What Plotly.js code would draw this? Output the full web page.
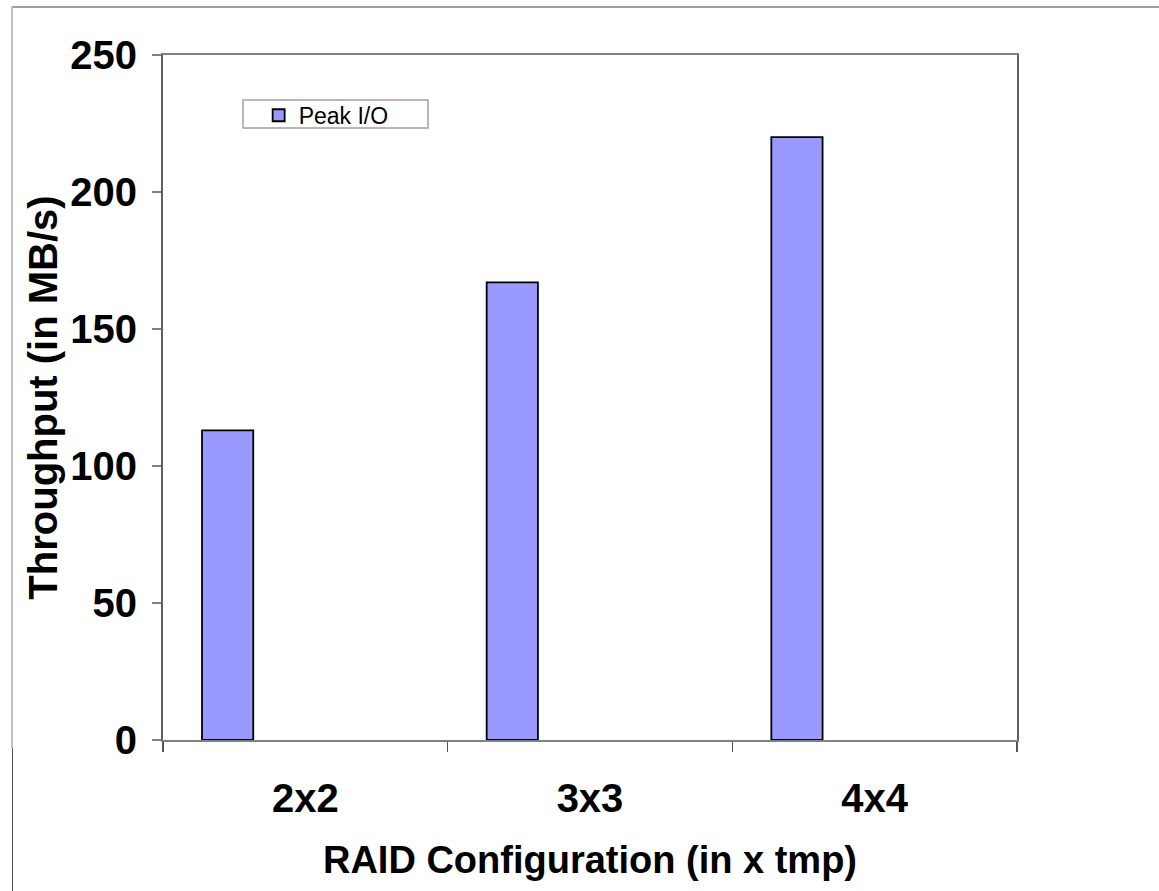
<!DOCTYPE html>
<html>
<head>
<meta charset="utf-8">
<script src="https://cdn.plot.ly/plotly-3.0.1.min.js"></script>
<style>
  html, body { margin: 0; padding: 0; background: #fff; }
  #wrap { position: relative; width: 1159px; height: 891px; overflow: hidden; }
  #chart { position: absolute; left: 0; top: 0; width: 1159px; height: 891px; }
  .frame-top { position: absolute; left: 12px; top: 6px; width: 1147px; height: 0; border-top: 2px solid #a0a0a0; }
  .frame-left { position: absolute; left: 11px; top: 6px; width: 0; height: 742px; border-left: 2px solid #c0c0c0; }
  .frame-left-low { position: absolute; left: 12px; top: 748px; width: 0; height: 143px; border-left: 1px solid #555; }
</style>
</head>
<body>
<div id="wrap">
  <div class="frame-top"></div>
  <div class="frame-left"></div>
  <div class="frame-left-low"></div>
  <div id="chart"></div>
</div>
<script>
// RAID configurations and measured peak throughput (MB/s)
const configs = ["2x2", "3x3", "4x4"];
const peakIO = [113, 167, 220];
const seriesName = "Peak I/O";
const yTicks = [0, 50, 100, 150, 200, 250];

const font = "Liberation Sans, Arial, sans-serif";

const trace = {
  type: "bar",
  name: seriesName,
  x: configs,
  y: peakIO,
  width: 0.18,
  offset: -0.363,
  marker: { color: "#9999ff", line: { color: "#000000", width: 1.8 } },
  showlegend: true,
  hoverinfo: "x+y"
};

const layout = {
  width: 1159,
  height: 891,
  margin: { l: 163, r: 142, t: 55, b: 151 },
  paper_bgcolor: "rgba(0,0,0,0)",
  plot_bgcolor: "#ffffff",
  font: { family: font, color: "#000" },
  showlegend: true,
  legend: {
    x: 0.112, y: 0.912, xanchor: "left", yanchor: "middle",
    bgcolor: "rgba(0,0,0,0)",
    borderwidth: 0,
    font: { family: font, size: 23, color: "#000" }
  },
  // legend frame box
  shapes: [{
    type: "rect", xref: "paper", yref: "paper", layer: "above",
    x0: 0.0937, x1: 0.3103, y0: 0.8934, y1: 0.9343,
    line: { color: "#a0a0a0", width: 1.5 },
    fillcolor: "#ffffff"
  }],
  xaxis: {
    type: "category",
    range: [-0.5, 2.5],
    tickson: "boundaries",
    ticks: "outside",
    ticklen: 10,
    tickwidth: 1.5,
    tickcolor: "#555",
    showline: true,
    linecolor: "#808080",
    linewidth: 2,
    mirror: true,
    showgrid: false,
    zeroline: false,
    tickfont: { family: font, size: 40, color: "#000", weight: "bold" },
    ticklabelstandoff: 22,
    title: { text: "RAID Configuration (in x tmp)", font: { family: font, size: 38, color: "#000", weight: "bold" }, standoff: 27 }
  },
  yaxis: {
    range: [0, 250],
    tickvals: yTicks,
    ticktext: yTicks.map(String),
    ticks: "outside",
    ticklen: 9,
    tickwidth: 1.5,
    tickcolor: "#808080",
    showline: true,
    linecolor: "#606060",
    linewidth: 2,
    mirror: true,
    showgrid: false,
    zeroline: false,
    tickfont: { family: font, size: 40, color: "#000", weight: "bold" },
    ticklabelstandoff: 7,
    title: { text: "Throughput (in MB/s)", font: { family: font, size: 40, color: "#000", weight: "bold" }, standoff: 0 }
  },
  bargap: 0
};

Plotly.newPlot("chart", [trace], layout, { displayModeBar: false, staticPlot: true });
</script>
</body>
</html>
